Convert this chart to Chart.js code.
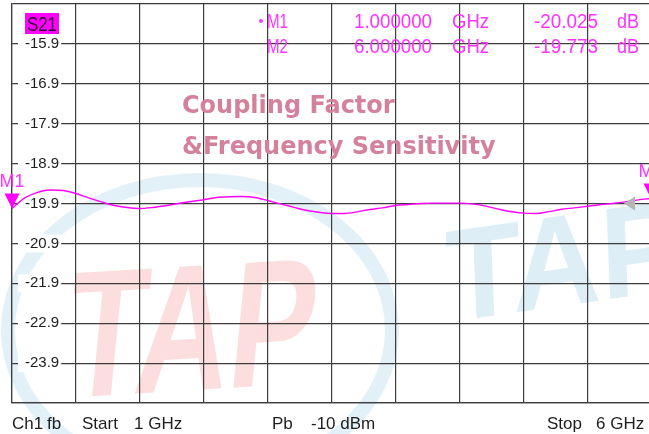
<!DOCTYPE html>
<html lang="en">
<head>
  <meta charset="UTF-8" />
  <title>S21 Coupling Factor</title>
  <script src="https://cdn.jsdelivr.net/npm/chart.js"></script>
  <style>
    html, body { margin: 0; padding: 0; background: #fff; overflow: hidden; }
    #wrap { width: 652px; height: 434px; }
  </style>
</head>
<body>
  <div id="wrap"><canvas id="s21Chart" width="652" height="434"></canvas></div>

  <script>
    // sweep 1 GHz .. 6 GHz
    const freqGHz = [1.0, 1.1, 1.2, 1.3, 1.4, 1.5, 1.6, 1.7, 1.8, 1.9,
                     2.0, 2.1, 2.2, 2.3, 2.4, 2.5, 2.6, 2.7, 2.8, 2.9,
                     3.0, 3.1, 3.2, 3.3, 3.4, 3.5, 3.6, 3.7, 3.8, 3.9,
                     4.0, 4.1, 4.2, 4.3, 4.4, 4.5, 4.6, 4.7, 4.8, 4.9,
                     5.0, 5.1, 5.2, 5.3, 5.4, 5.5, 5.6, 5.7, 5.8, 5.9, 6.0];
    const s21dB = [-20.025, -19.76, -19.62, -19.56, -19.575, -19.65, -19.76, -19.86, -19.95, -20.00,
                   -20.025, -20.00, -19.955, -19.90, -19.85, -19.805, -19.75, -19.73, -19.725, -19.75,
                   -19.825, -19.91, -19.99, -20.07, -20.12, -20.15, -20.15, -20.11, -20.05, -20.01,
                   -19.95, -19.925, -19.90, -19.89, -19.89, -19.89, -19.91, -19.96, -20.035, -20.10,
                   -20.14, -20.15, -20.105, -20.045, -20.01, -19.97, -19.93, -19.90, -19.86, -19.81, -19.773];

    const markerNames = ['M1', 'M2'];
    const markerFreq = [1.0, 6.0];
    const markerVal = [-20.025, -19.773];
    const refLevel = -19.9;

    const xTicks = [1, 1.5, 2, 2.5, 3, 3.5, 4, 4.5, 5, 5.5, 6];
    const yTicks = [-24.9, -23.9, -22.9, -21.9, -20.9, -19.9, -18.9, -17.9, -16.9, -15.9, -14.9];

    const MAG = '#ff00ff';
    const GRID = '#3c3c3c';

    function drawLogo(c, txt, x, y, rot, skew, sx, font, color) {
      c.save();
      c.translate(x, y);
      c.rotate(rot);
      c.transform(1, 0, -skew, 1, 0, 0);
      c.scale(sx, 1);
      c.font = font;
      c.fillStyle = color;
      c.textBaseline = 'alphabetic';
      c.fillText(txt, 0, 0);
      c.restore();
    }

    // white page plus the faint TAP watermark behind the grid
    const watermark = {
      id: 'watermark',
      beforeDraw(chart) {
        const c = chart.ctx;
        c.save();
        c.fillStyle = '#fff';
        c.fillRect(0, 0, chart.width, chart.height);
        c.strokeStyle = 'rgba(110,185,220,0.2)';
        c.lineWidth = 14;
        c.beginPath();
        c.ellipse(200, 330, 192, 150, 0, 0, Math.PI * 2);
        c.stroke();
        drawLogo(c, 'TAP', 62, 398, -0.06, 0.16, 0.72, 'bold 180px "Liberation Sans"', 'rgba(240,70,70,0.18)');
        drawLogo(c, 'TAP', 448, 322, -0.14, 0.1, 0.95, 'bold 130px "Liberation Sans"', 'rgba(90,170,210,0.2)');
        c.restore();
      }
    };

    function txt(c, s, x, y, w) {
      if (w) c.fillText(s, x, y, w); else c.fillText(s, x, y);
    }

    const annotations = {
      id: 'annotations',
      afterDatasetsDraw(chart) {
        const c = chart.ctx;
        const xs = chart.scales.x, ys = chart.scales.y;
        const area = chart.chartArea;
        c.save();
        c.textBaseline = 'alphabetic';

        // reference level arrow (grey, right side)
        const yr = ys.getPixelForValue(refLevel);
        c.fillStyle = '#b4b4b4';
        c.beginPath();
        c.moveTo(area.right - 27, yr);
        c.lineTo(area.right - 16, yr - 7);
        c.lineTo(area.right - 16, yr + 7);
        c.closePath();
        c.fill();

        // marker triangles
        c.font = '18px "Liberation Sans"';
        c.textAlign = 'center';
        markerNames.forEach((name, i) => {
          const px = xs.getPixelForValue(markerFreq[i]);
          const py = ys.getPixelForValue(markerVal[i]);
          c.fillStyle = MAG;
          c.beginPath();
          c.moveTo(px, py);
          c.lineTo(px - 7.5, py - 15);
          c.lineTo(px + 7.5, py - 15);
          c.closePath();
          c.fill();
          c.fillStyle = '#ff33ff';
          c.fillText(name, px, py - 21);
        });

        // S21 badge
        c.fillStyle = MAG;
        c.fillRect(25, 13, 34, 21);
        c.fillStyle = '#300030';
        c.font = '20px "Liberation Sans"';
        c.textAlign = 'left';
        txt(c, 'S21', 27, 31, 30);

        // marker readout
        c.fillStyle = '#ff33ff';
        c.beginPath();
        c.arc(261, 21, 2, 0, Math.PI * 2);
        c.fill();
        c.font = '20px "Liberation Sans"';
        const rows = [28, 53];
        markerNames.forEach((name, i) => {
          const y = rows[i];
          txt(c, name, 267, y, 21);
          txt(c, markerFreq[i].toFixed(6), 354, y, 78);
          txt(c, 'GHz', 452, y, 37);
          txt(c, markerVal[i].toFixed(3), 534, y, 64);
          txt(c, 'dB', 617, y, 22);
        });

        // watermark title
        c.fillStyle = '#d4819c';
        c.font = 'bold 24px "DejaVu Sans"';
        txt(c, 'Coupling Factor', 182, 113, 224);
        txt(c, '&Frequency Sensitivity', 182, 154, 322);

        // bottom status line
        c.fillStyle = '#1e1e1e';
        c.font = '17px "Liberation Sans"';
        const foot = [['Ch1', 12], ['fb', 47], ['Start', 82], ['1 GHz', 134],
                      ['Pb', 272], ['-10 dBm', 311], ['Stop', 547], ['6 GHz', 596]];
        foot.forEach(([s, x]) => txt(c, s, x, 429));
        c.restore();
      }
    };

    const ctx = document.getElementById('s21Chart').getContext('2d');
    new Chart(ctx, {
      type: 'line',
      data: {
        datasets: [{
          label: 'S21',
          data: freqGHz.map((f, i) => ({ x: f, y: s21dB[i] })),
          borderColor: MAG,
          borderWidth: 1.4,
          pointRadius: 0,
          cubicInterpolationMode: 'monotone',
          fill: false
        }]
      },
      options: {
        responsive: false,
        animation: false,
        layout: { padding: { left: 12, top: 4, right: 1, bottom: 31 } },
        plugins: { legend: { display: false }, tooltip: { enabled: false } },
        scales: {
          x: {
            type: 'linear',
            min: 1,
            max: 6,
            afterBuildTicks: s => { s.ticks = xTicks.map(v => ({ value: v })); },
            afterFit: s => { s.height = 0; s.paddingLeft = 0; s.paddingRight = 0; },
            ticks: { display: false },
            grid: { color: GRID, lineWidth: 1.2, drawTicks: false },
            border: { color: GRID, width: 1.2 }
          },
          y: {
            type: 'linear',
            min: -24.9,
            max: -14.9,
            afterBuildTicks: s => { s.ticks = yTicks.map(v => ({ value: v })); },
            afterFit: s => { s.width = 0; s.paddingTop = 0; s.paddingBottom = 0; },
            grid: { color: GRID, lineWidth: 1.2, drawTicks: false },
            border: { color: GRID, width: 1.2 },
            ticks: {
              mirror: true,
              padding: 13,
              color: '#1e1e1e',
              font: { family: 'Liberation Sans', size: 15 },
              callback: (v, i) => (i === 0 || i === yTicks.length - 1) ? '' : v.toFixed(1),
              showLabelBackdrop: c => c.index > 0 && c.index < yTicks.length - 1,
              backdropColor: '#ffffff',
              backdropPadding: { left: 7, right: 2, top: 0, bottom: 0 }
            }
          }
        }
      },
      plugins: [watermark, annotations]
    });
  </script>
</body>
</html>
